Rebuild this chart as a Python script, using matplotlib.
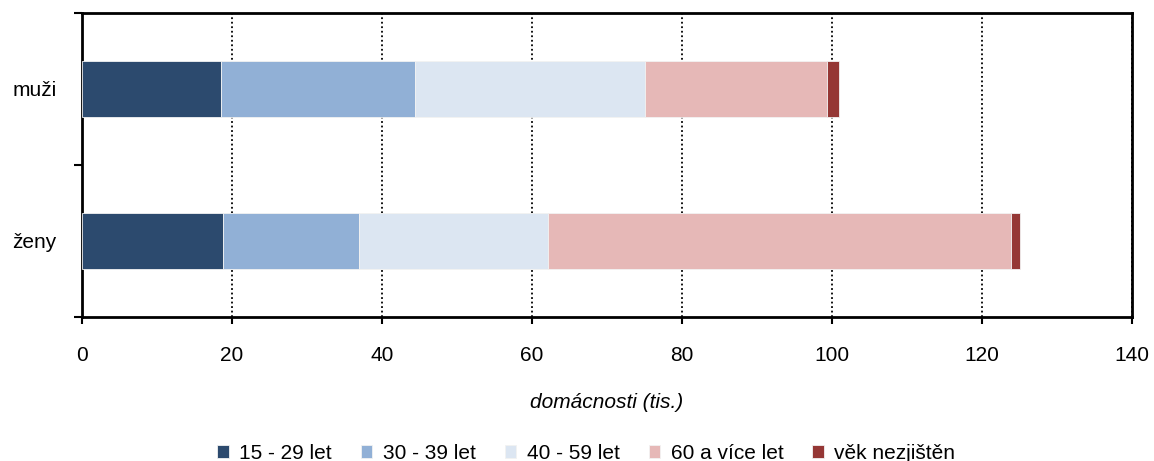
import numpy as np
import matplotlib.pyplot as plt

plt.rcParams["font.family"] = ["Liberation Sans", "DejaVu Sans"]

categories = ["muži", "ženy"]
age_groups = ["15 - 29 let", "30 - 39 let", "40 - 59 let", "60 a více let", "věk nezjištěn"]
age_15_29 = [18.6, 18.8]
age_30_39 = [25.8, 18.1]
age_40_59 = [30.7, 25.3]
age_60_plus = [24.2, 61.6]
age_unknown = [1.7, 1.3]
colors = ["#2C4A6E", "#91B0D6", "#DCE6F2", "#E6B8B7", "#953735"]

series = [age_15_29, age_30_39, age_40_59, age_60_plus, age_unknown]

fig = plt.figure(figsize=(11.54, 4.61), dpi=100)
ax = fig.add_axes([0.0708, 0.313, 0.9102, 0.6595])

y = np.arange(len(categories))
left = np.zeros(len(categories))
for vals, col, lab in zip(series, colors, age_groups):
    ax.barh(y, vals, left=left, height=0.37, color=col, edgecolor="#F2F2F2",
            linewidth=0.6, label=lab, zorder=3)
    left += np.array(vals)

ax.set_xlim(0, 140)
ax.set_ylim(1.5, -0.5)
ax.set_xticks(np.arange(0, 141, 20))
ax.set_yticks(y)
ax.set_yticklabels(categories)
ax.set_yticks([-0.5, 0.5, 1.5], minor=True)

ax.tick_params(axis="x", direction="out", length=5, width=1.5, labelsize=15, pad=16)
ax.tick_params(axis="y", which="major", length=0, labelsize=15, pad=18)
ax.tick_params(axis="y", which="minor", direction="out", length=6, width=1.5)

for s in ax.spines.values():
    s.set_linewidth(2)
    s.set_color("black")

ax.grid(axis="x", color="black", linestyle=(0, (1, 1.5)), linewidth=1.3, zorder=1)
ax.set_axisbelow(True)

ax.set_xlabel("domácnosti (tis.)", fontsize=15, style="italic", labelpad=20)

leg = fig.legend(loc="center", bbox_to_anchor=(0.508, 0.017), ncol=5, frameon=False,
                 fontsize=15, handlelength=0.55, handleheight=0.55, handletextpad=0.5,
                 columnspacing=1.4, borderaxespad=0)

fig.savefig("out.png", dpi=100)
